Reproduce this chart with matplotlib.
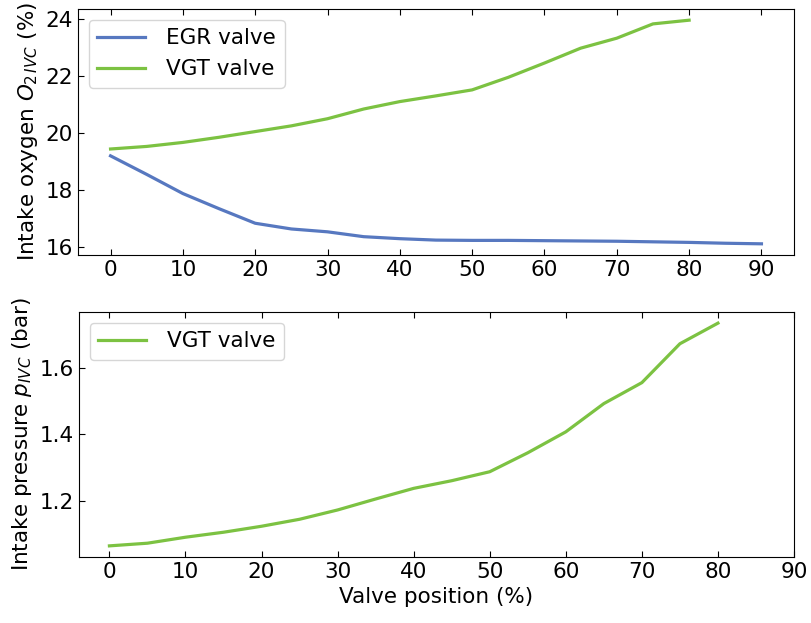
import numpy as np
import matplotlib.pyplot as plt

# Valve positions (%)
valve_pos = [0, 5, 10, 15, 20, 25, 30, 35, 40, 45, 50, 55, 60, 65, 70, 75, 80, 85, 90]
valve_pos_vgt = [0, 5, 10, 15, 20, 25, 30, 35, 40, 45, 50, 55, 60, 65, 70, 75, 80]

# Intake oxygen O2 at IVC (%)
o2_egr = [19.20, 18.55, 17.88, 17.35, 16.84, 16.64, 16.54, 16.37, 16.30, 16.25,
          16.24, 16.24, 16.23, 16.22, 16.21, 16.19, 16.17, 16.14, 16.12]
o2_vgt = [19.44, 19.53, 19.67, 19.85, 20.05, 20.25, 20.50, 20.84, 21.10, 21.30,
          21.51, 21.95, 22.45, 22.97, 23.32, 23.82, 23.95]

# Intake pressure at IVC (bar)
p_vgt = [1.064, 1.072, 1.090, 1.105, 1.123, 1.144, 1.172, 1.205, 1.237, 1.260,
         1.287, 1.344, 1.407, 1.492, 1.555, 1.672, 1.734]

egr_color = '#5778c0'
vgt_color = '#7cc242'

plt.rcParams['font.size'] = 15.5

fig = plt.figure(figsize=(8.11, 6.23), dpi=100)
W, H = 811, 623
ax1 = fig.add_axes([78 / W, 1 - 255 / H, (794 - 78) / W, (255 - 9) / H])
ax2 = fig.add_axes([79 / W, 1 - 557 / H, (794 - 79) / W, (557 - 312) / H])

# Top panel: intake oxygen
ax1.plot(valve_pos, o2_egr, color=egr_color, linewidth=2.3, label='EGR valve')
ax1.plot(valve_pos_vgt, o2_vgt, color=vgt_color, linewidth=2.3, label='VGT valve')
ax1.set_ylabel('Intake oxygen $O_{2\\,IVC}$ (%)')
ax1.set_xticks(range(0, 91, 10))
ax1.set_yticks([16, 18, 20, 22, 24])
ax1.tick_params(direction='in', top=True, length=4.5)
ax1.legend(loc='upper left', handlelength=2.2, handletextpad=1.0)

# Bottom panel: intake pressure
ax2.plot(valve_pos_vgt, p_vgt, color=vgt_color, linewidth=2.3, label='VGT valve')
ax2.set_xlim(-4, 90)
ax2.set_xticks(range(0, 91, 10))
ax2.set_yticks([1.2, 1.4, 1.6])
ax2.set_xlabel('Valve position (%)')
ax2.set_ylabel('Intake pressure $p_{IVC}$ (bar)')
ax2.tick_params(direction='in', top=True, length=4.5)
ax2.legend(loc='upper left', handlelength=2.2, handletextpad=1.0)

fig.savefig('out.png', dpi=100)
